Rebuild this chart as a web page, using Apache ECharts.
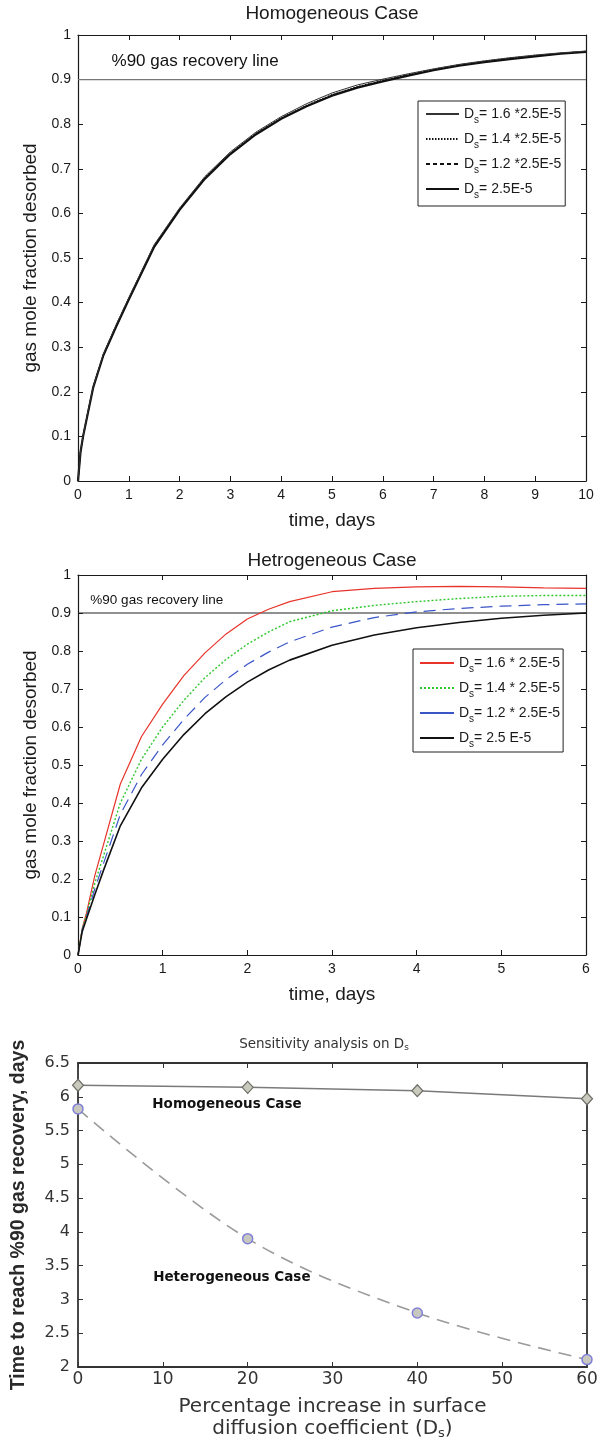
<!DOCTYPE html>
<html><head><meta charset="utf-8">
<script src="https://cdn.jsdelivr.net/npm/echarts@6/dist/echarts.min.js"></script>
<style>html,body{margin:0;padding:0;background:#fff}#c{width:601px;height:1444px}</style>
</head><body><div id="c"></div>
<script>
// ---------- data ----------
const homoTime = [0, 0.05, 0.1, 0.2, 0.3, 0.5, 0.75, 1, 1.5, 2, 2.5, 3, 3.5, 4, 4.5, 5, 5.5, 6, 6.5, 7, 7.5, 8, 8.5, 9, 9.5, 10];
const homo16 = [0, 0.067, 0.102, 0.158, 0.212, 0.285, 0.350, 0.411, 0.530, 0.612, 0.683, 0.738, 0.782, 0.817, 0.846, 0.870, 0.888, 0.901, 0.913, 0.924, 0.934, 0.942, 0.949, 0.955, 0.960, 0.964];
const homo14 = [0, 0.066, 0.101, 0.157, 0.211, 0.283, 0.348, 0.409, 0.527, 0.610, 0.680, 0.735, 0.779, 0.814, 0.842, 0.866, 0.884, 0.898, 0.911, 0.923, 0.933, 0.941, 0.948, 0.954, 0.959, 0.963];
const homo12 = [0, 0.066, 0.100, 0.156, 0.210, 0.282, 0.347, 0.408, 0.526, 0.609, 0.679, 0.734, 0.778, 0.813, 0.841, 0.865, 0.883, 0.897, 0.910, 0.922, 0.932, 0.940, 0.947, 0.953, 0.958, 0.962];
const homo10 = [0, 0.065, 0.100, 0.155, 0.210, 0.282, 0.346, 0.407, 0.525, 0.608, 0.678, 0.733, 0.777, 0.812, 0.840, 0.864, 0.882, 0.896, 0.909, 0.921, 0.931, 0.939, 0.946, 0.952, 0.958, 0.962];
const homoNames = ['Ds= 1.6 *2.5E-5', 'Ds= 1.4 *2.5E-5', 'Ds= 1.2 *2.5E-5', 'Ds= 2.5E-5'];

const hetTime = [0, 0.05, 0.1, 0.2, 0.3, 0.5, 0.75, 1, 1.25, 1.5, 1.75, 2, 2.25, 2.5, 3, 3.5, 4, 4.5, 5, 5.5, 6];
const het16 = [0, 0.070, 0.110, 0.210, 0.290, 0.450, 0.575, 0.660, 0.735, 0.795, 0.845, 0.884, 0.910, 0.930, 0.956, 0.965, 0.969, 0.970, 0.969, 0.966, 0.965];
const het14 = [0, 0.068, 0.105, 0.190, 0.260, 0.400, 0.515, 0.600, 0.670, 0.730, 0.778, 0.818, 0.850, 0.877, 0.906, 0.920, 0.930, 0.938, 0.944, 0.946, 0.946];
const het12 = [0, 0.066, 0.100, 0.175, 0.240, 0.370, 0.475, 0.553, 0.620, 0.678, 0.725, 0.765, 0.797, 0.824, 0.863, 0.888, 0.903, 0.912, 0.918, 0.922, 0.924];
const het10 = [0, 0.062, 0.095, 0.160, 0.222, 0.340, 0.440, 0.515, 0.580, 0.635, 0.680, 0.718, 0.750, 0.776, 0.815, 0.842, 0.861, 0.875, 0.886, 0.894, 0.900];
const hetNames = ['Ds= 1.6 * 2.5E-5', 'Ds= 1.4 * 2.5E-5', 'Ds= 1.2 * 2.5E-5', 'Ds= 2.5 E-5'];

const pctIncrease = [0, 20, 40, 60];
const homoDays = [6.17, 6.14, 6.09, 5.97];
const hetDays = [5.82, 3.90, 2.80, 2.11];

const recoveryLevel = 0.9;
const recoveryText = '%90 gas recovery line';
const homoNote = [8.7, 5.88, 'Homogeneous Case'];
const hetNote = [8.8, 3.32, 'Heterogeneous Case'];
const recNote1 = [0.65, 0.94];
const recNote2 = [0.14, 0.934];

// ---------- helpers ----------
const FONT = 'Liberation Sans';
const FONT3 = 'DejaVu Sans';
const zip = (xs, ys) => xs.map((x, i) => [x, ys[i]]);
const subFmt = name => '{d|D}{s|s}{d|' + name.slice(2) + '}';
const richDs = {
  d: { fontSize: 14, lineHeight: 16, color: '#1a1a1a', fontFamily: FONT },
  s: { fontSize: 10, lineHeight: 16, padding: [12, 0, 0, 0], color: '#1a1a1a', fontFamily: FONT }
};

function xAxes(grid, min, max, interval, name, nameGap, o) {
  const line = { show: true, onZero: false, lineStyle: { color: o.c, width: o.w } };
  const tick = { show: true, inside: true, length: 5, lineStyle: { color: o.c, width: 1 } };
  return [
    { gridIndex: grid, type: 'value', min, max, interval, axisLine: line, axisTick: tick,
      splitLine: { show: false },
      axisLabel: { color: o.c, fontSize: o.xfs || o.fs, margin: o.m, fontFamily: o.f },
      name, nameLocation: 'middle', nameGap,
      nameTextStyle: Object.assign({ color: o.c, fontSize: o.nfs, fontFamily: o.f, lineHeight: o.nlh || Math.round(o.nfs * 1.2) }, o.nts || {}) },
    { gridIndex: grid, type: 'value', position: 'top', min, max, interval, axisLine: line, axisTick: tick,
      splitLine: { show: false }, axisLabel: { show: false } }
  ];
}
function yAxes(grid, min, max, interval, name, nameGap, o) {
  const line = { show: true, onZero: false, lineStyle: { color: o.c, width: o.w } };
  const tick = { show: true, inside: true, length: 5, lineStyle: { color: o.c, width: 1 } };
  return [
    { gridIndex: grid, type: 'value', min, max, interval, axisLine: line, axisTick: tick,
      splitLine: { show: false },
      axisLabel: { color: o.c, fontSize: o.fs, margin: o.m, fontFamily: o.f },
      name, nameLocation: 'middle', nameGap,
      nameTextStyle: Object.assign({ color: o.c, fontSize: o.nfs, fontFamily: o.nf || o.f }, o.nts || {}) },
    { gridIndex: grid, type: 'value', position: 'right', min, max, interval, axisLine: line, axisTick: tick,
      splitLine: { show: false }, axisLabel: { show: false } }
  ];
}
function curve(name, xi, yi, xs, ys, color, width, type, z) {
  return { name, type: 'line', xAxisIndex: xi, yAxisIndex: yi, data: zip(xs, ys),
    symbol: 'none', smooth: false, silent: true, z: z || 2, animation: false,
    itemStyle: { color }, lineStyle: { color, width, type } };
}
function note(xi, yi, pt, text, style) {
  return { type: 'scatter', xAxisIndex: xi, yAxisIndex: yi, data: [[pt[0], pt[1]]], symbolSize: 1,
    silent: true, animation: false, z: 5, itemStyle: { color: 'rgba(0,0,0,0)' },
    label: Object.assign({ show: true, position: 'right', distance: 0, formatter: text, fontFamily: FONT,
      textBorderWidth: 0, opacity: 1 }, style) };
}

const o1 = { c: '#1a1a1a', w: 1.2, fs: 14, m: 7, nfs: 19, f: FONT };
const o3 = { c: '#333', w: 1.8, fs: 16, m: 8, nfs: 18, f: FONT3 };
const legendBase = { orient: 'vertical', itemHeight: 14, itemGap: 3, borderColor: '#222', borderWidth: 1,
  backgroundColor: '#fff', selectedMode: false, formatter: subFmt,
  itemStyle: { color: 'rgba(0,0,0,0)', borderColor: 'rgba(0,0,0,0)', borderWidth: 0, opacity: 0 },
  textStyle: { fontSize: 14, color: '#1a1a1a', rich: richDs } };

const option = {
  animation: false,
  backgroundColor: '#fff',
  textStyle: { fontFamily: FONT },
  title: [
    { text: 'Homogeneous Case', left: 332, top: 4, textAlign: 'center', padding: 0,
      textStyle: { fontSize: 19, fontWeight: 'normal', color: '#1a1a1a', fontFamily: FONT } },
    { text: 'Hetrogeneous Case', left: 332, top: 551, textAlign: 'center', padding: 0,
      textStyle: { fontSize: 19, fontWeight: 'normal', color: '#1a1a1a', fontFamily: FONT } },
    { text: '{t|Sensitivity analysis on D}{u|s}', left: 324, top: 1037, textAlign: 'center', padding: 0,
      textStyle: { fontWeight: 'normal', rich: {
        t: { fontSize: 13.5, lineHeight: 15, fontWeight: 'normal', color: '#333', fontFamily: FONT3 },
        u: { fontSize: 9, lineHeight: 15, fontWeight: 'normal', padding: [6, 0, 0, 0], color: '#333', fontFamily: FONT3 } } } }
  ],
  grid: [
    { left: 78, top: 35, width: 508, height: 446, outerBoundsMode: 'none' },
    { left: 78, top: 575, width: 508, height: 380, outerBoundsMode: 'none' },
    { left: 78, top: 1063, width: 509, height: 304, outerBoundsMode: 'none' }
  ],
  xAxis: [
    ...xAxes(0, 0, 10, 1, 'time, days', 28, o1),
    ...xAxes(1, 0, 6, 1, 'time, days', 28, o1),
    ...xAxes(2, 0, 60, 10, 'Percentage increase in surface\ndiffusion coefficient (D{u|s})', 29,
      Object.assign({}, o3, { m: 4, xfs: 17, nfs: 20, nlh: 22, nts: { rich: { u: { fontSize: 13, lineHeight: 22, padding: [10, 0, 0, 0], color: '#333', fontFamily: FONT3 } } } }))
  ],
  yAxis: [
    ...yAxes(0, 0, 1, 0.1, 'gas mole fraction desorbed', 38, o1),
    ...yAxes(1, 0, 1, 0.1, 'gas mole fraction desorbed', 38, o1),
    ...yAxes(2, 2, 6.5, 0.5, 'Time to reach %90 gas recovery, days', 49,
      Object.assign({}, o3, { nfs: 19.5, nf: FONT, nts: { fontWeight: 'bold', color: '#2a2a2a' } }))
  ],
  legend: [
    Object.assign({}, legendBase, { data: homoNames, left: 418, top: 101, itemWidth: 33, padding: [2, 4, 6, 7] }),
    Object.assign({}, legendBase, { data: hetNames.map((n, i) => i === 2 ? { name: n, lineStyle: { type: 'solid' } } : n),
      left: 413, top: 649, itemWidth: 34, padding: [3, 3, 3, 6] })
  ],
  series: [
    // chart 1
    curve('rec1', 0, 0, [0, 10], [recoveryLevel, recoveryLevel], '#777', 1.2, 'solid', 1),
    curve(homoNames[3], 0, 0, homoTime, homo10, '#111', 2.2, 'solid'),
    curve(homoNames[2], 0, 0, homoTime, homo12, '#111', 1, [4, 3]),
    curve(homoNames[1], 0, 0, homoTime, homo14, '#111', 1.4, [1.5, 1.5]),
    curve(homoNames[0], 0, 0, homoTime, homo16, '#333', 1, 'solid'),
    note(0, 0, recNote1, recoveryText, { fontSize: 17, color: '#111' }),
    // chart 2
    curve('rec2', 2, 2, [0, 6], [recoveryLevel, recoveryLevel], '#222', 1, 'solid', 1),
    curve(hetNames[0], 2, 2, hetTime, het16, '#e8332a', 1.2, 'solid'),
    curve(hetNames[1], 2, 2, hetTime, het14, '#2ec82e', 1.4, [2, 2]),
    curve(hetNames[2], 2, 2, hetTime, het12, '#3a55c8', 1.2, [12, 7]),
    curve(hetNames[3], 2, 2, hetTime, het10, '#111', 1.6, 'solid'),
    note(2, 2, recNote2, recoveryText, { fontSize: 13.5, color: '#111' }),
    // chart 3
    { name: 'homoDs', type: 'line', xAxisIndex: 4, yAxisIndex: 4, data: zip(pctIncrease, homoDays),
      symbol: 'diamond', symbolSize: [11, 12], silent: true, animation: false,
      lineStyle: { color: '#7a7a7a', width: 1.5 },
      itemStyle: { color: '#c9c9bd', borderColor: '#6e6e66', borderWidth: 1.2 } },
    { name: 'hetDs', type: 'line', xAxisIndex: 4, yAxisIndex: 4, data: zip(pctIncrease, hetDays),
      smooth: 0.35, symbol: 'circle', symbolSize: 10, silent: true, animation: false,
      lineStyle: { color: '#9a9a9a', width: 1.6, type: [13, 8] },
      itemStyle: { color: '#c8c8c0', borderColor: '#8080d8', borderWidth: 1.5 } },
    note(4, 4, homoNote, homoNote[2], { fontSize: 13.5, fontWeight: 'bold', color: '#111', fontFamily: FONT3 }),
    note(4, 4, hetNote, hetNote[2], { fontSize: 13.5, fontWeight: 'bold', color: '#111', fontFamily: FONT3 })
  ]
};

const chart = echarts.init(document.getElementById('c'), null, { renderer: 'canvas' });
chart.setOption(option);
</script>
</body></html>
